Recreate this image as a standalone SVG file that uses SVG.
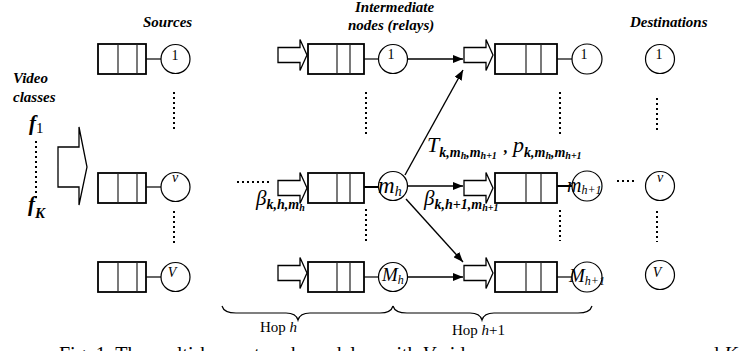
<svg xmlns="http://www.w3.org/2000/svg" width="741" height="351" viewBox="0 0 741 351">
  <style>
    text { font-family: "Liberation Serif", "Times New Roman", serif; fill: #000; }
    .hdr { font-size: 15px; font-weight: bold; font-style: italic; }
    .num { font-size: 14px; }
    .it { font-style: italic; }
    .bi { font-weight: bold; font-style: italic; }
    .q { fill: #fff; stroke: #000; stroke-width: 1.8; }
    .div { stroke: #222; stroke-width: 1.2; }
    .node { fill: #fff; stroke: #000; stroke-width: 1.2; }
    .link { stroke: #000; stroke-width: 1.2; fill: none; }
    .thick { stroke: #000; stroke-width: 2; fill: none; }
    .in { fill: #fff; stroke: #000; stroke-width: 1.3; }
    .dots { stroke: #000; stroke-width: 2; stroke-dasharray: 2 3; fill: none; }
    .arr { stroke: #000; stroke-width: 1.4; fill: none; marker-end: url(#head); }
    .brace { stroke: #000; stroke-width: 1.2; fill: none; }
  </style>
  <defs>
    <marker id="head" viewBox="0 0 10 8" refX="10" refY="4" markerWidth="10" markerHeight="8" markerUnits="userSpaceOnUse" orient="auto">
      <path d="M0,0 L10,4 L0,8 Z" fill="#000"/>
    </marker>
    <!-- hollow input arrow, origin at shaft left, centred on y=0 -->
    <path id="inArrow" d="M0,-7.5 H22 V-15.5 L29,0 L22,15.5 V7.5 H0 Z"/>
  </defs>

  <rect width="741" height="351" fill="#fff"/>

  <!-- column headings -->
  <g id="headings">
    <text class="hdr" x="143" y="27">Sources</text>
    <text class="hdr" x="355" y="12">Intermediate</text>
    <text class="hdr" x="348" y="30">nodes (relays)</text>
    <text class="hdr" x="630" y="27">Destinations</text>
    <text class="hdr" x="13" y="83">Video</text>
    <text class="hdr" x="13" y="102">classes</text>
  </g>

  <!-- video classes f1 ... fK -->
  <g id="classes">
    <text x="29" y="130" class="bi" font-size="21">f<tspan font-weight="normal" font-style="normal" font-size="15" dy="3">1</tspan></text>
    <path class="dots" d="M36,141 V199"/>
    <text x="28" y="211" class="bi" font-size="21">f<tspan font-size="15" dy="7">K</tspan></text>
    <path class="in" d="M58,147 H79 V127 L87,167 L79,205 V187 H58 Z"/>
  </g>

  <!-- sources -->
  <g id="source-1">
    <rect class="q" x="98" y="44" width="48" height="30"/>
    <path class="div" d="M118,44 V74 M137,44 V74"/>
    <path class="link" d="M146,59 H161"/>
    <circle class="node" cx="175.5" cy="59" r="14.5"/>
    <text class="num" x="175" y="60" text-anchor="middle">1</text>
  </g>
  <g id="source-v">
    <rect class="q" x="98" y="173" width="48" height="30"/>
    <path class="div" d="M118,173 V203 M137,173 V203"/>
    <path class="link" d="M146,187 H161"/>
    <circle class="node" cx="175.5" cy="187" r="14.5"/>
    <text class="num it" x="175" y="182" text-anchor="middle">v</text>
  </g>
  <g id="source-V">
    <rect class="q" x="98" y="262" width="48" height="30"/>
    <path class="div" d="M118,262 V292 M137,262 V292"/>
    <path class="link" d="M146,277 H161"/>
    <circle class="node" cx="175.5" cy="277" r="14.5"/>
    <text class="num it" x="172" y="277" text-anchor="middle">V</text>
  </g>
  <path class="dots" d="M174,92 V130 M174,211 V243"/>

  <!-- relays at hop h -->
  <g id="relay-h-1">
    <use href="#inArrow" class="in" x="278" y="55"/>
    <rect class="q" x="308" y="44" width="56" height="30"/>
    <path class="div" d="M337,44 V74 M350,44 V74"/>
    <path class="link" d="M364,59 H378"/>
    <circle class="node" cx="393" cy="59" r="14.5"/>
    <text class="num" x="391" y="59" text-anchor="middle">1</text>
  </g>
  <g id="relay-h-m">
    <use href="#inArrow" class="in" x="278" y="188"/>
    <rect class="q" x="308" y="173" width="56" height="30"/>
    <path class="div" d="M337,173 V203 M350,173 V203"/>
    <path class="thick" d="M364,187 H380"/>
    <circle class="node" cx="393" cy="186" r="14.5"/>
    <text x="378" y="193" class="it" font-size="23">m<tspan font-size="14" dy="3">h</tspan></text>
  </g>
  <g id="relay-h-M">
    <use href="#inArrow" class="in" x="278" y="273"/>
    <rect class="q" x="308" y="262" width="56" height="30"/>
    <path class="div" d="M337,262 V292 M350,262 V292"/>
    <path class="link" d="M364,277 H379"/>
    <circle class="node" cx="393" cy="277" r="14.5"/>
    <text x="382" y="281" class="it" font-size="19">M<tspan font-size="12" dy="3">h</tspan></text>
  </g>
  <path class="dots" d="M237,182 H269"/>
  <path class="dots" d="M366,92 V134 M366,209 V241"/>

  <!-- relays at hop h+1 -->
  <g id="relay-h1-1">
    <use href="#inArrow" class="in" x="464" y="55"/>
    <rect class="q" x="495" y="44" width="62" height="30"/>
    <path class="div" d="M526,44 V74 M541,44 V74"/>
    <path class="link" d="M557,59 H572"/>
    <circle class="node" cx="587" cy="59" r="15"/>
    <text class="num" x="584" y="59" text-anchor="middle">1</text>
  </g>
  <g id="relay-h1-m">
    <use href="#inArrow" class="in" x="464" y="188"/>
    <rect class="q" x="495" y="173" width="62" height="30"/>
    <path class="div" d="M526,173 V203 M541,173 V203"/>
    <path class="thick" d="M557,186 H572"/>
    <circle class="node" cx="587" cy="186" r="15"/>
    <text x="567" y="192" class="it" font-size="20">m<tspan font-size="12" dy="2">h+1</tspan></text>
  </g>
  <g id="relay-h1-M">
    <use href="#inArrow" class="in" x="464" y="273"/>
    <rect class="q" x="495" y="262" width="62" height="30"/>
    <path class="div" d="M526,262 V292 M541,262 V292"/>
    <path class="link" d="M557,277 H572"/>
    <circle class="node" cx="587" cy="277" r="15"/>
    <text x="569" y="282" class="it" font-size="19">M<tspan font-size="12" dy="3">h+1</tspan></text>
  </g>
  <path class="dots" d="M560,92 V134 M560,210 V241"/>
  <path class="dots" d="M617,181 H634"/>

  <!-- destinations -->
  <g id="dest-1">
    <circle class="node" cx="660" cy="59" r="14.5"/>
    <text class="num" x="659" y="59" text-anchor="middle">1</text>
  </g>
  <g id="dest-v">
    <circle class="node" cx="660" cy="186" r="14.5"/>
    <text class="num it" x="660" y="182" text-anchor="middle">v</text>
  </g>
  <g id="dest-V">
    <circle class="node" cx="660" cy="275" r="14.5"/>
    <text class="num it" x="657" y="277" text-anchor="middle">V</text>
  </g>
  <path class="dots" d="M657,98 V130 M657,211 V242"/>

  <!-- transmissions between hops -->
  <g id="connectors">
    <path class="arr" d="M408,59 H463"/>
    <path class="arr" d="M405,175 L463,70"/>
    <path class="arr" d="M408,186 H463"/>
    <path class="arr" d="M406,199 L463,262"/>
    <path class="arr" d="M408,277 H463"/>
  </g>

  <!-- rate / probability / load labels -->
  <g id="labels">
    <text x="427" y="152" class="it" font-size="22">T<tspan class="bi" font-size="14" dy="5">k,m</tspan><tspan class="bi" font-size="10" dy="2">h</tspan><tspan class="bi" font-size="14" dy="-2">,m</tspan><tspan class="bi" font-size="10" dy="2">h+1</tspan></text>
    <text x="504" y="153" class="bi" font-size="16">,</text>
    <text x="513" y="152" class="it" font-size="22">p<tspan class="bi" font-size="14" dy="5">k,m</tspan><tspan class="bi" font-size="10" dy="2">h</tspan><tspan class="bi" font-size="14" dy="-2">,m</tspan><tspan class="bi" font-size="10" dy="2">h+1</tspan></text>
    <text x="256" y="205" class="it" font-size="21">β<tspan class="bi" font-size="14" dy="4">k,h,m</tspan><tspan class="bi" font-size="10" dy="2">h</tspan></text>
    <text x="424" y="205" class="it" font-size="21">β<tspan class="bi" font-size="14" dy="4">k,h+1,m</tspan><tspan class="bi" font-size="10" dy="2">h+1</tspan></text>
  </g>

  <!-- hop braces -->
  <g id="hops">
    <path class="brace" d="M222,306 Q224,313 236,313 H286 Q296,313 298,320 Q300,313 310,313 H380 Q391,313 393,306"/>
    <path class="brace" d="M393,306 Q395,313 407,313 H470 Q480,313 482,320 Q484,313 494,313 H578 Q590,313 592,306"/>
    <text x="260" y="332" font-size="15">Hop <tspan class="it">h</tspan></text>
    <text x="452" y="335" font-size="15">Hop <tspan class="it">h</tspan>+1</text>
  </g>

  <!-- caption, cut by the lower edge -->
  <g id="caption" font-size="20">
    <text x="59" y="361">Fig. 1. The multi-hop network model</text>
    <text x="382" y="361">with <tspan class="it">V</tspan> video sources</text>
    <text x="690" y="361">and <tspan class="it">K</tspan> classes</text>
  </g>
</svg>
